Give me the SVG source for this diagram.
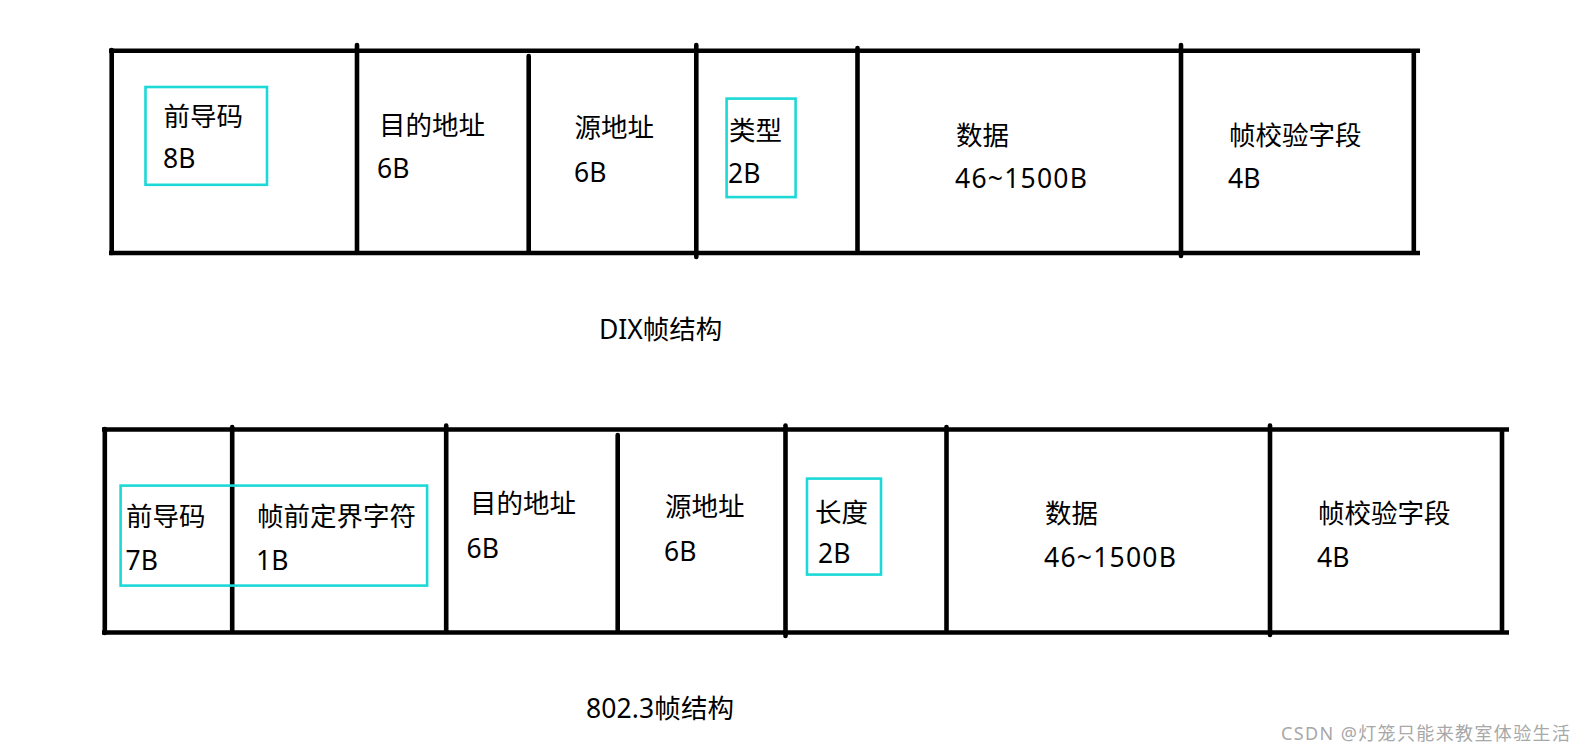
<svg xmlns="http://www.w3.org/2000/svg" width="1588" height="752" viewBox="0 0 1588 752">
<style>
.ln{stroke:#000;stroke-width:4.6;stroke-linecap:round;fill:none}
.hl{stroke:#000;stroke-width:4.6;stroke-linecap:butt;fill:none}
.cy{stroke:#1cd9d8;stroke-width:2.6;fill:none}
text{font-family:"Noto Sans","Noto Sans CJK SC",sans-serif;font-size:26.5px;fill:#000}
.wm{font-size:18px;fill:#a8a8a8;letter-spacing:1px}
</style>
<rect width="1588" height="752" fill="#fff"/>
<g id="frame-dix">
<line class="hl" x1="109" y1="50.8" x2="1420" y2="50.8"/>
<line class="hl" x1="109" y1="253" x2="1420" y2="253"/>
<line class="ln" x1="111.7" y1="50" x2="111.7" y2="253"/>
<line class="ln" x1="357" y1="45" x2="357" y2="252"/>
<line class="ln" x1="528.7" y1="56" x2="528.7" y2="252"/>
<line class="ln" x1="696.3" y1="45" x2="696.3" y2="257"/>
<line class="ln" x1="857.5" y1="48" x2="857.5" y2="251"/>
<line class="ln" x1="1181" y1="45" x2="1181" y2="256"/>
<line class="ln" x1="1413.8" y1="53" x2="1413.8" y2="251"/>
</g>
<g id="frame-8023">
<line class="hl" x1="102" y1="429.5" x2="1509" y2="429.5"/>
<line class="hl" x1="102" y1="632.5" x2="1509" y2="632.5"/>
<line class="ln" x1="104.8" y1="429" x2="104.8" y2="633"/>
<line class="ln" x1="232.2" y1="427" x2="232.2" y2="632"/>
<line class="ln" x1="446.2" y1="425.5" x2="446.2" y2="632"/>
<line class="ln" x1="617.7" y1="435" x2="617.7" y2="630"/>
<line class="ln" x1="785.5" y1="425.5" x2="785.5" y2="636"/>
<line class="ln" x1="946.5" y1="427" x2="946.5" y2="630"/>
<line class="ln" x1="1270" y1="425.5" x2="1270" y2="635"/>
<line class="ln" x1="1502" y1="430" x2="1502" y2="630"/>
</g>
<g id="dix-preamble">
<rect class="cy" x="145.5" y="87" width="121.5" height="97.8"/>
<text x="163.5" y="125.5">前导码</text>
<text x="163" y="168">8B</text>
</g>
<g id="dix-dst">
<text x="379" y="134.5">目的地址</text>
<text x="377" y="178">6B</text>
</g>
<g id="dix-src">
<text x="574.5" y="137">源地址</text>
<text x="574" y="181.5">6B</text>
</g>
<g id="dix-type">
<rect class="cy" x="726.6" y="98.6" width="69" height="98.5"/>
<text x="729" y="139.5">类型</text>
<text x="728" y="183">2B</text>
</g>
<g id="dix-data">
<text x="956" y="144.5">数据</text>
<text x="955" y="188" textLength="132" lengthAdjust="spacing">46~1500B</text>
</g>
<g id="dix-fcs">
<text x="1229" y="145">帧校验字段</text>
<text x="1228" y="188">4B</text>
</g>
<g id="dix-caption">
<text x="599" y="339">DIX帧结构</text>
</g>
<g id="e-preamble">
<rect class="cy" x="120.6" y="485.6" width="306.5" height="100"/>
<text x="126" y="526">前导码</text>
<text x="125.5" y="570">7B</text>
</g>
<g id="e-sfd">
<text x="257" y="526">帧前定界字符</text>
<text x="256" y="570">1B</text>
</g>
<g id="e-dst">
<text x="470" y="513">目的地址</text>
<text x="466.5" y="557.5">6B</text>
</g>
<g id="e-src">
<text x="665" y="516">源地址</text>
<text x="664" y="561">6B</text>
</g>
<g id="e-len">
<rect class="cy" x="807" y="478.6" width="74" height="96"/>
<text x="815" y="522">长度</text>
<text x="818" y="563.3">2B</text>
</g>
<g id="e-data">
<text x="1045" y="523">数据</text>
<text x="1044" y="566.5" textLength="132" lengthAdjust="spacing">46~1500B</text>
</g>
<g id="e-fcs">
<text x="1318" y="523">帧校验字段</text>
<text x="1317" y="566.5">4B</text>
</g>
<g id="e-caption">
<text x="586" y="718.3" textLength="148" lengthAdjust="spacing">802.3帧结构</text>
</g>
<text class="wm" x="1281" y="740" textLength="290" lengthAdjust="spacing">CSDN @灯笼只能来教室体验生活</text>
</svg>
